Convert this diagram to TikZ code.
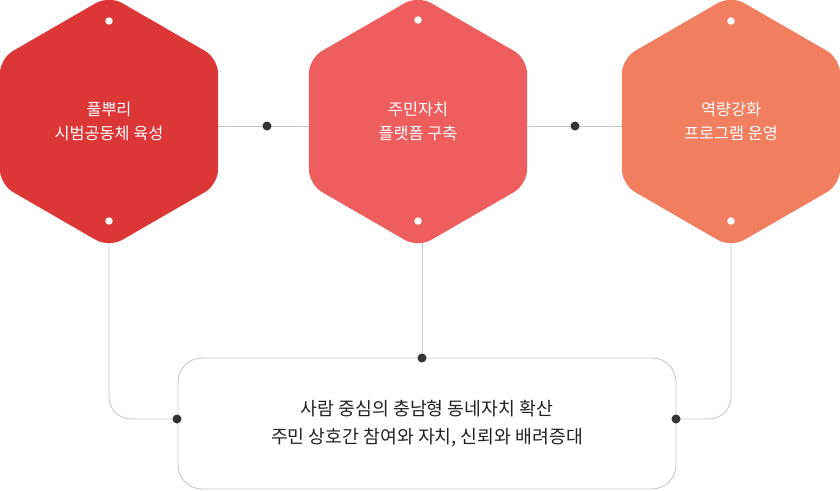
\documentclass[tikz,border=0pt]{standalone}
\usepackage{fontspec}
\setmainfont{Noto Sans CJK KR}
\usepackage{xcolor}
\usetikzlibrary{shapes.geometric, backgrounds, calc}
\definecolor{hexA}{HTML}{DC3637}
\definecolor{hexB}{HTML}{EE5E5E}
\definecolor{hexC}{HTML}{F07E5F}
\definecolor{lineGray}{HTML}{C8C8C8}
\definecolor{dotDark}{HTML}{333333}
\definecolor{textDark}{HTML}{222222}

\begin{document}
\begin{tikzpicture}[x=1pt, y=-1pt,
  hexa/.style={regular polygon, regular polygon sides=6, shape border rotate=30,
    minimum size=252pt, inner sep=0pt, rounded corners=15pt, text=white,
    font=\fontsize{16.3}{24}\selectfont, align=center},
  goal/.style={draw=lineGray, line width=0.9pt, rounded corners=24pt,
    minimum width=498pt, minimum height=131pt, inner sep=0pt, text=textDark,
    font=\fontsize{18.3}{28}\selectfont, align=center},
  conn/.style={draw=lineGray, line width=0.9pt},
  hole/.style={circle, fill=white, inner sep=0pt, minimum size=7.5pt},
  knot/.style={circle, fill=dotDark, inner sep=0pt, minimum size=9pt}]
  \useasboundingbox (0,0) rectangle (840,490);

  % three hexagons
  \node[hexa, fill=hexA] (h1) at (109,121.5) {풀뿌리\\시범공동체 육성};
  \node[hexa, fill=hexB] (h2) at (418,121.5) {주민자치\\플랫폼 구축};
  \node[hexa, fill=hexC] (h3) at (731,121.5) {역량강화\\프로그램 운영};

  % white holes top and bottom
  \node[hole] (h1t) at (109,21) {};
  \node[hole] (h1b) at (109,221) {};
  \node[hole] (h2t) at (418,20) {};
  \node[hole] (h2b) at (418,221) {};
  \node[hole] (h3t) at (731,21) {};
  \node[hole] (h3b) at (731,221) {};

  % goal box
  \node[goal] (goal) at (427,423.5)
    {사람 중심의 충남형 동네자치 확산\\주민 상호간 참여와 자치, 신뢰와 배려증대};

  % joints
  \coordinate (m1) at (267,126);
  \coordinate (m2) at (575,126);
  \coordinate (top) at (422,358);
  \coordinate (in1) at (177,419);
  \coordinate (in2) at (676,419);

  % connectors behind the shapes
  \begin{scope}[on background layer]
    \draw[conn] (h1 |- m1) -- (h2 |- m1);
    \draw[conn] (h2 |- m2) -- (h3 |- m2);
    \draw[conn] (h2 -| top) -- (top);
    \draw[conn, rounded corners=22pt] (h1.center) |- (in1);
    \draw[conn, rounded corners=22pt] (h3.center) |- (in2);
  \end{scope}

  % dark dots
  \node[knot] (k1) at (m1) {};
  \node[knot] (k2) at (m2) {};
  \node[knot] (k3) at (top) {};
  \node[knot] (k4) at (in1) {};
  \node[knot] (k5) at (in2) {};
\end{tikzpicture}
\end{document}
